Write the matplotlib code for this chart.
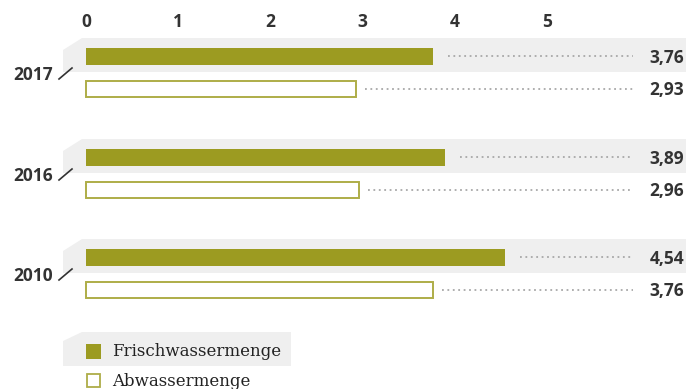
import matplotlib.pyplot as plt
from matplotlib.patches import Polygon, Rectangle

# - data
years      = ["2017", "2016", "2010"]
frisch     = [3.76, 3.89, 4.54]
abwasser   = [2.93, 2.96, 3.76]
ticks      = [0, 1, 2, 3, 4, 5]
legend_lbl = ["Frischwassermenge", "Abwassermenge"]

OLIVE  = "#9c9b21"
EDGE   = "#aead48"
BAND   = "#efefef"
TEXT   = "#333333"
DOTS   = "#a8a8a8"

W, H     = 686, 389
X0, UNIT = 86, 92.2          # pixel of value 0 and pixels per unit
SANS     = ["Open Sans", "DejaVu Sans"]
SERIF    = ["DejaVu Serif"]


def px(x):
    return (x - X0) / UNIT


fig = plt.figure(figsize=(W / 100, H / 100), dpi=100)
ax = fig.add_axes([0, 0, 1, 1])
ax.set_xlim(px(0), px(W))
ax.set_ylim(H, 0)
ax.axis("off")

# - scale labels on top
for t in ticks:
    ax.text(t, 22, str(t), ha="center", va="center", fontsize=12.5,
            fontweight="bold", color=TEXT, family=SANS)

group_top = [38, 139, 239]
for i, year in enumerate(years):
    top = group_top[i]

    # - grey band with slanted corner behind the filled bar
    band = Polygon([(px(82), top), (px(W), top), (px(W), top + 34),
                    (px(63), top + 34), (px(63), top + 12)],
                   closed=True, facecolor=BAND, edgecolor="none", zorder=0)
    ax.add_patch(band)

    y_f = top + 18
    y_a = top + 51
    ax.barh(y_f, frisch[i], height=17, left=0, color=OLIVE, zorder=2)
    ax.barh(y_a, abwasser[i], height=16, left=0, facecolor="white",
            edgecolor=EDGE, linewidth=1.4, zorder=2)

    # - dotted leader lines to the value labels
    ax.plot([frisch[i] + px(X0 + 15), px(633)], [y_f, y_f], linestyle=(0, (1, 2)),
            color=DOTS, linewidth=1.3, zorder=1)
    ax.plot([abwasser[i] + px(X0 + 9), px(633)], [y_a, y_a], linestyle=(0, (1, 2)),
            color=DOTS, linewidth=1.3, zorder=1)

    ax.text(px(684), y_f + 1.5, f"{frisch[i]:.2f}".replace(".", ","), ha="right",
            va="center", fontsize=12.5, fontweight="bold", color=TEXT, family=SANS)
    ax.text(px(684), y_a + 1, f"{abwasser[i]:.2f}".replace(".", ","), ha="right",
            va="center", fontsize=12.5, fontweight="bold", color=TEXT, family=SANS)

    # - year label with slash
    ax.text(px(53), top + 37, year, ha="right", va="center", fontsize=12.5,
            fontweight="bold", color=TEXT, family=SANS)
    ax.plot([px(59), px(72)], [top + 41, top + 30], color=TEXT, linewidth=1.2)

# - legend
leg = Polygon([(px(82), 332), (px(291), 332), (px(291), 366),
               (px(63), 366), (px(63), 341)],
              closed=True, facecolor=BAND, edgecolor="none", zorder=0)
ax.add_patch(leg)
ax.add_patch(Rectangle((px(86), 344), px(101) - px(86), 15, facecolor=OLIVE,
                       edgecolor="none", zorder=2))
ax.add_patch(Rectangle((px(87), 374), px(100) - px(87), 13, facecolor="white",
                       edgecolor=EDGE, linewidth=1.3, zorder=2))
ax.text(px(112), 351, legend_lbl[0], ha="left", va="center", fontsize=12,
        color="#222222", family=SERIF)
ax.text(px(112), 381, legend_lbl[1], ha="left", va="center", fontsize=12,
        color="#222222", family=SERIF)

fig.savefig("out.png", dpi=100)
